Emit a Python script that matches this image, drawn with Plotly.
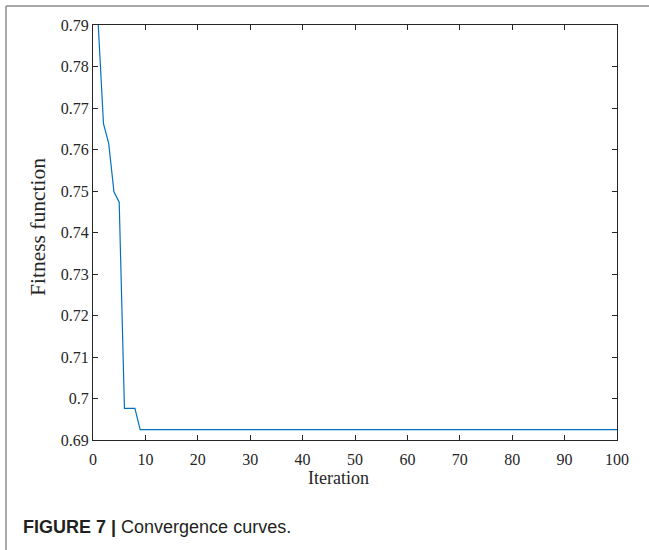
import plotly.graph_objects as go

# Breakpoints of the convergence curve (straight segments between them)
iterations = [1, 2, 3, 4, 5, 6, 8, 9, 100]
fitness = [0.7900, 0.7662, 0.7614, 0.7498, 0.7473, 0.6976, 0.6976, 0.6925, 0.6925]

x_ticks = [0, 10, 20, 30, 40, 50, 60, 70, 80, 90, 100]
y_ticks = [0.69, 0.70, 0.71, 0.72, 0.73, 0.74, 0.75, 0.76, 0.77, 0.78, 0.79]
y_tick_text = ["0.69", "0.7", "0.71", "0.72", "0.73", "0.74", "0.75", "0.76", "0.77", "0.78", "0.79"]

W, H = 649, 550
L, R, T, B = 93, 32, 25, 110
pw, ph = W - L - R, H - T - B

def px(x):
    return (x - L) / pw

def py(y):
    return 1 - (y - T) / ph

fig = go.Figure()
fig.add_trace(go.Scatter(
    x=iterations, y=fitness, mode="lines",
    line=dict(color="#0072BD", width=1.2),
    showlegend=False, hoverinfo="skip", cliponaxis=True,
))

axis_common = dict(
    showline=True, linecolor="#262626", linewidth=1, mirror="ticks",
    ticks="inside", ticklen=5, tickcolor="#262626", tickwidth=1,
    showgrid=False, zeroline=False,
    tickfont=dict(family="Liberation Serif", size=16, color="#262626"),
)

fig.update_xaxes(range=[0, 100], tickvals=x_ticks, ticklabelstandoff=5, **axis_common)
fig.update_yaxes(range=[0.69, 0.79], tickvals=y_ticks, ticktext=y_tick_text, **axis_common)

fig.update_layout(
    width=W, height=H,
    margin=dict(l=L, r=R, t=T, b=B, pad=0),
    plot_bgcolor="white", paper_bgcolor="white",
    shapes=[
        dict(type="line", xref="paper", yref="paper",
             x0=px(6), x1=px(W + 5), y0=py(6), y1=py(6),
             line=dict(color="#8c8c8c", width=1.5)),
        dict(type="line", xref="paper", yref="paper",
             x0=px(6), x1=px(6), y0=py(6), y1=py(H + 5),
             line=dict(color="#8c8c8c", width=1.5)),
    ],
    annotations=[
        dict(text="Iteration", xref="paper", yref="paper",
             x=px(338), y=py(478), xanchor="center", yanchor="middle",
             showarrow=False,
             font=dict(family="Liberation Serif", size=18, color="#262626")),
        dict(text="Fitness function", xref="paper", yref="paper",
             x=px(38), y=py(227), xanchor="center", yanchor="middle",
             textangle=-90, showarrow=False,
             font=dict(family="Liberation Serif", size=21.5, color="#262626")),
        dict(text="<b>FIGURE 7 |</b> Convergence curves.", xref="paper", yref="paper",
             x=px(21), y=py(527), xanchor="left", yanchor="middle",
             showarrow=False,
             font=dict(family="Liberation Sans", size=18, color="#231f20")),
    ],
)

fig.write_html("out.html", config={"displayModeBar": False},
               post_script="document.body.style.margin='0';document.body.style.overflow='hidden';")
